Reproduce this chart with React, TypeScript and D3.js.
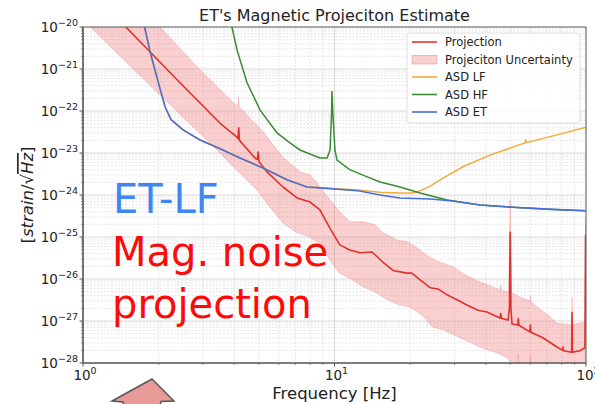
import React from "react";
import * as d3 from "d3";

// ---------- data ----------
const projFreq = [1.38, 1.48, 2.43, 3.51, 4.06, 4.13, 4.16, 4.19, 4.83, 4.94, 4.97, 5.01, 5.06, 5.39, 6.24, 7.1, 8.0, 8.75, 9.6, 10.5, 11.5, 12.6, 14.1, 15.6, 17.1, 19.4, 20.3, 21.9, 24.0, 25.8, 28.0, 30.7, 33.6, 37.2, 40.4, 45.5, 45.8, 46.1, 49.0, 49.6, 49.95, 50.3, 50.8, 53.5, 53.8, 54.1, 59.8, 60.1, 60.4, 67.4, 76.7, 80.8, 81.1, 81.4, 87.7, 88.0, 88.3, 94.6, 99.0, 99.6, 100];
const projVal = [1.55e-20, 1.0e-20, 4.7e-22, 5.1e-23, 2.5e-23, 2.2e-23, 4.0e-23, 2.0e-23, 7.6e-24, 7.0e-24, 1.05e-23, 6.2e-24, 5.8e-24, 3.55e-24, 1.55e-24, 8.5e-25, 6.8e-25, 4.4e-25, 1.6e-25, 6.5e-26, 4.9e-26, 4.2e-26, 4.4e-26, 2.5e-26, 1.6e-26, 1.38e-26, 1.38e-26, 9.5e-27, 6.2e-27, 5.8e-27, 4.2e-27, 3.2e-27, 2.4e-27, 1.8e-27, 1.63e-27, 1.18e-27, 1.5e-27, 1.16e-27, 1.05e-27, 2.0e-27, 1.3e-25, 2.0e-27, 8.5e-28, 8.0e-28, 1.15e-27, 7.9e-28, 5.5e-28, 8.0e-28, 5.4e-28, 4.0e-28, 2.4e-28, 2.0e-28, 2.4e-28, 1.95e-28, 1.8e-28, 1.6e-27, 1.8e-28, 1.95e-28, 2.3e-28, 1.1e-25, 1.1e-25];

const bandHighFreq = [1.54, 1.99, 2.92, 4.06, 4.12, 4.15, 4.18, 5.2, 6.24, 7.29, 8.0, 8.52, 9.6, 10.5, 11.5, 13.0, 14.5, 15.6, 17.7, 19.6, 21.3, 24.0, 26.3, 29.6, 33.0, 37.9, 45.5, 45.8, 46.1, 49.3, 49.95, 50.6, 54.7, 59.8, 60.1, 60.4, 63.8, 71.9, 76.7, 86.4, 87.7, 88.0, 88.3, 99.1, 99.6, 100];
const bandHighVal = [6.2e-20, 1.12e-20, 9.5e-22, 1.38e-22, 1.3e-22, 2.15e-22, 1.25e-22, 3.2e-23, 7.9e-24, 3.55e-24, 3.0e-24, 1.95e-24, 7.6e-25, 4.0e-25, 2.3e-25, 2.3e-25, 1.95e-25, 1.26e-25, 8.5e-26, 7.6e-26, 5.5e-26, 3.2e-26, 2.5e-26, 1.95e-26, 1.26e-26, 8.5e-27, 5.5e-27, 7.2e-27, 5.4e-27, 4.9e-27, 7.6e-25, 4.7e-27, 3.7e-27, 3.0e-27, 4.0e-27, 2.9e-27, 2.15e-27, 1.26e-27, 8.9e-28, 8.0e-28, 8.0e-28, 3.7e-27, 8.0e-28, 9.5e-28, 2.5e-25, 2.5e-25];

const bandLowFreq = [1.01, 1.05, 2.08, 3.35, 4.21, 4.92, 5.54, 6.24, 7.1, 8.0, 8.75, 9.6, 10.5, 11.5, 13.0, 14.5, 16.2, 18.2, 20.0, 22.3, 24.6, 27.0, 31.6, 37.9, 44.3, 49.0, 49.95, 51.0, 53.5, 53.8, 54.1, 59.8, 60.1, 60.4, 100];
const bandLowVal = [1.48e-20, 1.12e-20, 2.04e-22, 1.32e-23, 3.3e-24, 1.32e-24, 5.1e-25, 2.15e-25, 1.26e-25, 1.0e-25, 6.8e-26, 2.8e-26, 1.38e-26, 1.05e-26, 6.5e-27, 4.9e-27, 3.2e-27, 2.4e-27, 2.15e-27, 1.38e-27, 7.2e-28, 6.2e-28, 4.0e-28, 2.4e-28, 1.74e-28, 1.32e-28, 1.0e-28, 6e-29, 6e-29, 1.6e-28, 6e-29, 6e-29, 1.6e-28, 6e-29, 6e-29];

const lfFreq = [1.72, 1.75, 1.85, 2.02, 2.12, 2.24, 2.5, 2.92, 3.51, 4.21, 5.2, 6.47, 7.78, 8.75, 12.4, 15.2, 18.2, 20.5, 21.9, 24.0, 26.3, 32.4, 41.5, 57.2, 57.6, 58.0, 76.7, 100];
const lfVal = [1.63e-20, 1.12e-20, 2.5e-21, 3.55e-22, 1.26e-22, 6.2e-23, 3.55e-23, 2.04e-23, 1.26e-23, 7.6e-24, 4.4e-24, 2.3e-24, 1.55e-24, 1.48e-24, 1.32e-24, 1.17e-24, 1.12e-24, 1.12e-24, 1.26e-24, 1.62e-24, 2.3e-24, 4.7e-24, 8.9e-24, 1.74e-23, 2.1e-23, 1.76e-23, 2.7e-23, 4.1e-23];

const hfFreq = [3.81, 3.91, 4.1, 4.49, 5.06, 5.91, 6.65, 7.29, 8.75, 9.34, 9.6, 9.73, 9.77, 9.86, 10.04, 10.23, 11.5, 13.5, 15.2, 18.2, 21.9, 28.0, 37.9, 51.3, 70.0, 100];
const hfVal = [1.95e-20, 1.0e-20, 2.8e-21, 4.7e-22, 1.05e-22, 3.0e-23, 1.74e-23, 1.18e-23, 7.6e-24, 7.6e-24, 1.18e-23, 8e-23, 3.0e-22, 8e-23, 1.18e-23, 6.8e-24, 4.0e-24, 2.7e-24, 2.04e-24, 1.55e-24, 1.12e-24, 7.6e-25, 5.8e-25, 5.1e-25, 4.6e-25, 4.2e-25];

const etFreq = [1.72, 1.75, 1.85, 2.02, 2.12, 2.24, 2.5, 2.92, 3.51, 4.21, 5.2, 6.47, 7.78, 8.75, 12.4, 15.2, 18.2, 24.0, 29.6, 37.9, 51.3, 70.0, 100];
const etVal = [1.63e-20, 1.12e-20, 2.5e-21, 3.55e-22, 1.26e-22, 6.2e-23, 3.55e-23, 2.04e-23, 1.26e-23, 7.6e-24, 4.4e-24, 2.3e-24, 1.55e-24, 1.48e-24, 1.26e-24, 1.0e-24, 8.5e-25, 8.0e-25, 7.2e-25, 5.8e-25, 5.1e-25, 4.6e-25, 4.2e-25];

const xMajorTicks = [1, 10, 100];
const xTickExp = ["0", "1", "2"];
const yExponents = [-20, -21, -22, -23, -24, -25, -26, -27, -28];

const legendLabels = ["Projection", "Projeciton Uncertainty", "ASD LF", "ASD HF", "ASD ET"];

const COL_RED = "#e2312a";
const COL_BAND = "#f08080";
const COL_LF = "#f2ac3a";
const COL_HF = "#3b8a34";
const COL_ET = "#4a6fd3";

const FONT = "DejaVu Sans, sans-serif";

export default function App() {
  const W = 595, H = 404;
  const L = 83, R = 586, T = 27, B = 363;
  const x = d3.scaleLog().domain([1, 100]).range([L, R]);
  const y = d3.scaleLog().domain([1e-28, 1e-20]).range([B, T]);

  const zip = (fs: number[], vs: number[]) => fs.map((f, i) => [f, vs[i]] as [number, number]);
  const line = d3.line<[number, number]>().x(d => x(d[0])).y(d => y(d[1]));

  const bandPts = [...zip(bandHighFreq, bandHighVal), ...zip(bandLowFreq, bandLowVal).reverse()];
  const bandPath = line(bandPts) + "Z";

  // grid
  const xMinor: number[] = [];
  [1, 10].forEach(dec => { for (let m = 2; m <= 9; m++) xMinor.push(m * dec); });
  const yMinor: number[] = [];
  for (let e = -28; e < -20; e++) for (let m = 2; m <= 9; m++) yMinor.push(m * Math.pow(10, e));
  const yMajor = yExponents.map(e => Math.pow(10, e));

  const legendX = 407, legendY = 33;
  const rowY = [42, 59.5, 77, 94.5, 112];
  const legendColors = [COL_RED, COL_BAND, COL_LF, COL_HF, COL_ET];

  return (
    <svg width={W} height={H} style={{ position: "absolute", left: 0, top: 0, background: "#fff" }} fontFamily={FONT}>
      <defs>
        <clipPath id="plotclip">
          <rect x={L} y={T} width={R - L} height={B - T} />
        </clipPath>
      </defs>
      <rect x={0} y={0} width={W} height={H} fill="#fff" />

      {/* grid */}
      <g>
        {yMinor.map((v, i) => (
          <line key={"ym" + i} x1={L} x2={R} y1={y(v)} y2={y(v)} stroke="#d3d3d3" strokeWidth={0.6} strokeDasharray="2,1.5" />
        ))}
        {xMinor.map((v, i) => (
          <line key={"xm" + i} x1={x(v)} x2={x(v)} y1={T} y2={B} stroke="#d3d3d3" strokeWidth={0.6} strokeDasharray="2,1.5" />
        ))}
        {yMajor.map((v, i) => (
          <line key={"yM" + i} x1={L} x2={R} y1={y(v)} y2={y(v)} stroke="#cfcfcf" strokeWidth={0.8} />
        ))}
        {xMajorTicks.map((v, i) => (
          <line key={"xM" + i} x1={x(v)} x2={x(v)} y1={T} y2={B} stroke="#cfcfcf" strokeWidth={0.8} />
        ))}
      </g>

      {/* data */}
      <g clipPath="url(#plotclip)">
        <path d={bandPath} fill={COL_BAND} fillOpacity={0.38} stroke={COL_BAND} strokeOpacity={0.45} strokeWidth={0.8} />
        <path d={line(zip(projFreq, projVal)) || ""} fill="none" stroke={COL_RED} strokeWidth={1.6} strokeLinejoin="round" />
        <path d={line(zip(lfFreq, lfVal)) || ""} fill="none" stroke={COL_LF} strokeWidth={1.5} />
        <path d={line(zip(hfFreq, hfVal)) || ""} fill="none" stroke={COL_HF} strokeWidth={1.5} />
        <path d={line(zip(etFreq, etVal)) || ""} fill="none" stroke={COL_ET} strokeWidth={1.6} />
      </g>

      {/* spines */}
      <rect x={L} y={T} width={R - L} height={B - T} fill="none" stroke="#666" strokeWidth={1} />
      <line x1={L} x2={L} y1={T} y2={B} stroke="#555" strokeWidth={1.2} />
      <line x1={L} x2={R} y1={B} y2={B} stroke="#555" strokeWidth={1.2} />

      {/* y ticks */}
      {yMajor.map((v, i) => (
        <line key={"ytk" + i} x1={L - 3.5} x2={L} y1={y(v)} y2={y(v)} stroke="#555" strokeWidth={1} />
      ))}
      {yMinor.map((v, i) => (
        <line key={"ytm" + i} x1={L - 2} x2={L} y1={y(v)} y2={y(v)} stroke="#555" strokeWidth={0.6} />
      ))}
      {yExponents.map((e, i) => (
        <text key={"yl" + i} x={L - 5} y={y(Math.pow(10, e)) + 5} textAnchor="end" fontSize={13.5} fill="#222">
          <tspan>10</tspan>
          <tspan dy={-6} fontSize={9.5}>{"\u2212" + String(-e)}</tspan>
        </text>
      ))}

      {/* x ticks */}
      {xMajorTicks.map((v, i) => (
        <line key={"xtk" + i} x1={x(v)} x2={x(v)} y1={B} y2={B + 3.5} stroke="#555" strokeWidth={1} />
      ))}
      {xMinor.map((v, i) => (
        <line key={"xtm" + i} x1={x(v)} x2={x(v)} y1={B} y2={B + 2} stroke="#555" strokeWidth={0.6} />
      ))}
      {xMajorTicks.map((v, i) => (
        <text key={"xl" + i} x={x(v) + 2} y={B + 17} textAnchor="middle" fontSize={13.5} fill="#222">
          <tspan>10</tspan>
          <tspan dy={-6} fontSize={9.5}>{xTickExp[i]}</tspan>
        </text>
      ))}

      {/* title & labels */}
      <text x={(L + R) / 2} y={21} textAnchor="middle" fontSize={16} fill="#222">ET's Magnetic Projeciton Estimate</text>
      <text x={(L + R) / 2} y={399} textAnchor="middle" fontSize={16.5} fill="#222">Frequency [Hz]</text>
      <text transform={`translate(33,${(T + B) / 2}) rotate(-90)`} textAnchor="middle" fontSize={16.5} fill="#222">
        <tspan>[</tspan>
        <tspan fontStyle="italic">strain</tspan>
        <tspan>/√</tspan>
        <tspan fontStyle="italic" textDecoration="overline">Hz</tspan>
        <tspan>]</tspan>
      </text>

      {/* legend */}
      <rect x={legendX} y={legendY} width={173} height={90} rx={3} fill="#fff" fillOpacity={0.85} stroke="#d8d8d8" strokeWidth={0.8} />
      {legendLabels.map((lab, i) => (
        <g key={"lg" + i}>
          {i === 1 ? (
            <rect x={412} y={rowY[i] - 4} width={25} height={8.5} fill={COL_BAND} fillOpacity={0.38} stroke={COL_BAND} strokeOpacity={0.6} strokeWidth={0.8} />
          ) : (
            <line x1={412} x2={437} y1={rowY[i]} y2={rowY[i]} stroke={legendColors[i]} strokeWidth={1.6} />
          )}
          <text x={445} y={rowY[i] + 4} fontSize={11.5} fill="#222">{lab}</text>
        </g>
      ))}

      {/* annotation text */}
      <text x={113} y={213} fontSize={40} fill="#3f86f4">ET-LF</text>
      <text x={112} y={266} fontSize={40} fill="#ff0a0a">Mag. noise</text>
      <text x={112} y={318} fontSize={40} fill="#ff0a0a">projection</text>

      {/* arrow */}
      <polygon points="152,379 174,401 161,401.5 158,412 126,412 123,402 112,401" fill="#e89a98" stroke="#555" strokeWidth={1.5} strokeLinejoin="miter" />
    </svg>
  );
}
